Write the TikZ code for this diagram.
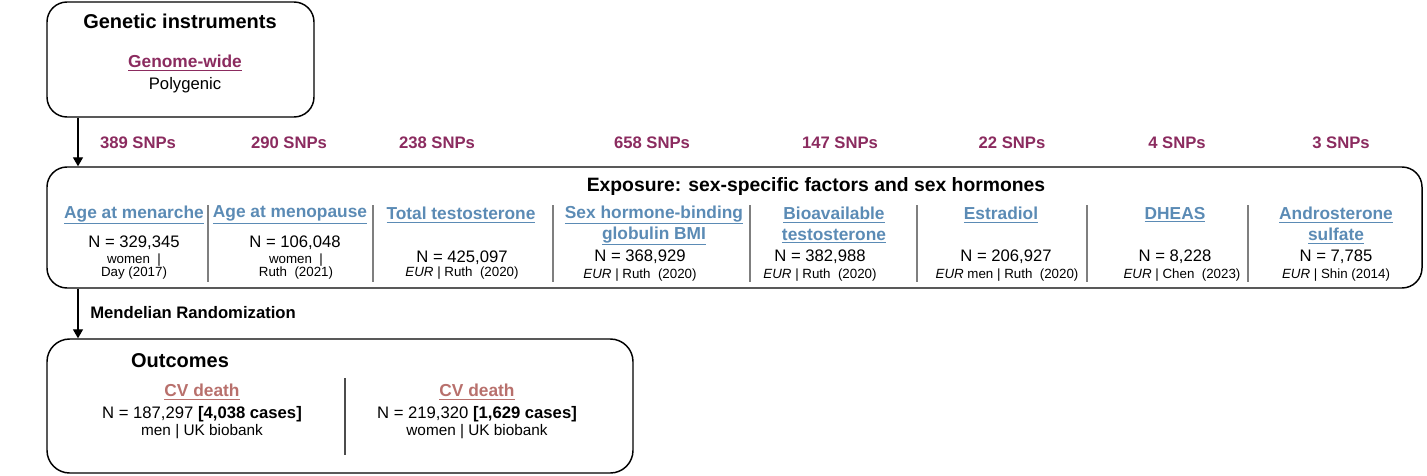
\documentclass[tikz,border=0pt]{standalone}
\usepackage{fontspec}
\setmainfont{Liberation Sans}
\usetikzlibrary{arrows}
\usetikzlibrary{positioning}

\definecolor{snpcol}{HTML}{8B2B5F}
\definecolor{lblcol}{HTML}{5B8BB5}
\definecolor{cvcol}{HTML}{B8706C}
\definecolor{sepcol}{HTML}{7F7F7F}

\begin{document}
\begin{tikzpicture}[x=0.75pt, y=-0.75pt,
  box/.style={draw, line width=1.1pt, rounded corners=15pt, inner sep=0pt},
  hdr/.style={font=\fontsize{15}{18}\selectfont\bfseries, inner sep=0pt},
  snp/.style={text=snpcol, font=\fontsize{12.5}{15}\selectfont\bfseries, inner sep=0pt},
  lbl/.style={text=lblcol, font=\fontsize{13}{15}\selectfont\bfseries, inner sep=0pt},
  num/.style={font=\fontsize{12.5}{15}\selectfont, inner sep=0pt},
  src/.style={font=\fontsize{10}{12}\selectfont, inner sep=0pt},
  sep/.style={draw=sepcol, line width=0.9pt}]

\useasboundingbox (0,0) rectangle (1427,475);

% boxes
\node [box, minimum width=200.25pt, minimum height=86.25pt] at (180.5,59.5) (genbox) {};
\node [box, minimum width=1031.25pt, minimum height=90.75pt] at (734.5,227.5) (expbox) {};
\node [box, minimum width=439.5pt, minimum height=100.5pt, rounded corners=17pt] at (340,406) (outbox) {};

% genetic instruments
\node [hdr] at (180,21) (gentitle) {Genetic instruments};
\node [snp, font=\fontsize{13}{15}\selectfont\bfseries] at (185,63) (gw) {\underline{Genome-wide}};
\node [num] at (185,85) (poly) {Polygenic};

% SNP counts
\foreach \x/\n in {138/389, 289/290, 437/238, 652/658, 840/147, 1012/22, 1177/4, 1341/3} {
   \node [snp] at (\x,143) (snp\n) {\n~SNPs};
}

% exposure
\node [hdr, font=\fontsize{14.5}{18}\selectfont\bfseries] at (816,186) (exptitle) {Exposure: sex-specific factors and sex hormones};
\foreach \k in {208, 373, 553, 750, 917, 1087, 1248} {
   \path[sep] (\k,205) -- (\k,282);
}

\node [lbl] at (134,215) (menar) {\underline{Age at menarche}};
\node [num] at (134,243) (nmenar) {N = 329,345};
\node [src] at (134,260) (smenar) {women \ |};
\node [src] at (134,273) (rmenar) {Day (2017)};

\node [lbl] at (290,215) (menop) {\underline{Age at menopause}};
\node [num] at (295,243) (nmenop) {N = 106,048};
\node [src] at (296,260) (smenop) {women \ |};
\node [src] at (296,273) (rmenop) {Ruth \ (2021)};

\node [lbl] at (461,215) (tt) {\underline{Total testosterone}};
\node [num] at (462,258) (ntt) {N = 425,097};
\node [src] at (462,273) (rtt) {\textit{EUR} | Ruth \ (2020)};

\node [lbl] at (654,215) (shbg) {\underline{Sex hormone-binding}};
\node [lbl] at (654,236) (shbgb) {\underline{globulin BMI}};
\node [num] at (640,257) (nshbg) {N = 368,929};
\node [src] at (640,275) (rshbg) {\textit{EUR} | Ruth \ (2020)};

\node [lbl] at (834,215) (bio) {\underline{Bioavailable}};
\node [lbl] at (834,236) (biob) {\underline{testosterone}};
\node [num] at (820,257) (nbio) {N = 382,988};
\node [src] at (820,275) (rbio) {\textit{EUR} | Ruth \ (2020)};

\node [lbl] at (1001,215) (estr) {\underline{Estradiol}};
\node [num] at (1006,257) (nestr) {N = 206,927};
\node [src] at (1007,275) (restr) {\textit{EUR} men | Ruth \ (2020)};

\node [lbl] at (1175,215) (dheas) {\underline{DHEAS}};
\node [num] at (1175,257) (ndheas) {N = 8,228};
\node [src] at (1182,275) (rdheas) {\textit{EUR} | Chen \ (2023)};

\node [lbl] at (1336,215) (andro) {\underline{Androsterone}};
\node [lbl] at (1336,236) (androb) {\underline{sulfate}};
\node [num] at (1336,257) (nandro) {N = 7,785};
\node [src] at (1336,275) (randro) {\textit{EUR} | Shin (2014)};

% outcomes
\node [hdr] at (180,361) (outtitle) {Outcomes};
\path[sep, draw=black!70] (345,378) -- (345,455);

\node [lbl, text=cvcol] at (202,392) (cvmen) {\underline{CV death}};
\node [num] at (202,414) (ncvmen) {N = 187,297 \textbf{[4,038 cases]}};
\node [num, font=\fontsize{11.5}{14}\selectfont] at (202,432) (scvmen) {men | UK biobank};

\node [lbl, text=cvcol] at (477,392) (cvwomen) {\underline{CV death}};
\node [num] at (477,414) (ncvwomen) {N = 219,320 \textbf{[1,629 cases]}};
\node [num, font=\fontsize{11.5}{14}\selectfont] at (477,432) (scvwomen) {women | UK biobank};

% arrows
\coordinate (ax) at (78,0);
\draw[-triangle 60, line width=0.8pt] (ax |- genbox.south) -- (ax |- expbox.north);
\draw[-triangle 60, line width=0.8pt] (ax |- expbox.south) -- (ax |- outbox.north);
\node [hdr, font=\fontsize{12.5}{15}\selectfont\bfseries, anchor=west] at (90,313) (mr) {Mendelian Randomization};
\end{tikzpicture}
\end{document}
